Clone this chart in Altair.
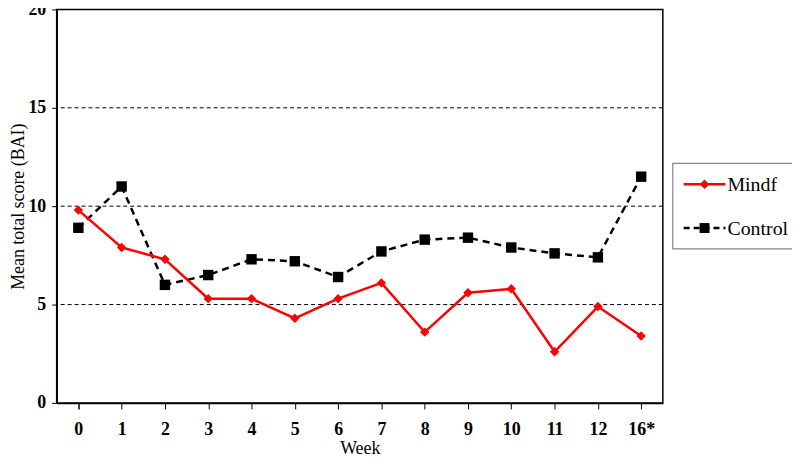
import altair as alt
import pandas as pd

weeks = ["0", "1", "2", "3", "4", "5", "6", "7", "8", "9", "10", "11", "12", "16*"]
mindf = [9.8, 7.9, 7.3, 5.3, 5.3, 4.3, 5.3, 6.1, 3.6, 5.6, 5.8, 2.6, 4.9, 3.4]
control = [8.9, 11.0, 6.0, 6.5, 7.3, 7.2, 6.4, 7.7, 8.3, 8.4, 7.9, 7.6, 7.4, 11.5]
y_ticks = [0, 5, 10, 15, 20]
grid_vals = [5, 10, 15]

FONT = "Times New Roman, Liberation Serif, serif"

df_m = pd.DataFrame({"week": weeks, "score": mindf})
df_c = pd.DataFrame({"week": weeks, "score": control})
df_grid = pd.DataFrame({"v": grid_vals})

W, H = 610, 396

x_enc = alt.X(
    "week:N",
    sort=weeks,
    scale=alt.Scale(paddingInner=1, paddingOuter=0.5),
    axis=alt.Axis(
        title="Week",
        labelAngle=0,
        labelFont=FONT,
        labelFontSize=18,
        labelFontWeight="bold",
        labelColor="black",
        labelPadding=12,
        tickBand="extent",
        tickColor="black",
        tickSize=6,
        domainColor="black",
        domainWidth=1.5,
        titleFont=FONT,
        titleFontSize=18,
        titleFontWeight="normal",
        titleColor="black",
        titlePadding=1,
        grid=False,
    ),
)

y_enc = alt.Y(
    "score:Q",
    scale=alt.Scale(domain=[0, 20], nice=False, zero=True),
    axis=alt.Axis(
        title="Mean total score (BAI)",
        values=y_ticks,
        labelFont=FONT,
        labelFontSize=18,
        labelFontWeight="bold",
        labelColor="black",
        labelPadding=6,
        tickColor="black",
        tickSize=5,
        domainColor="black",
        domainWidth=1.5,
        titleFont=FONT,
        titleFontSize=18,
        titleFontWeight="normal",
        titleColor="black",
        titlePadding=0,
        grid=False,
    ),
)

grid = alt.Chart(df_grid).mark_rule(color="black", strokeDash=[4, 3], strokeWidth=1).encode(
    y=alt.Y("v:Q", scale=alt.Scale(domain=[0, 20], nice=False))
)

line_m = alt.Chart(df_m).mark_line(color="#ff0000", strokeWidth=2.5).encode(x=x_enc, y=y_enc)
pts_m = alt.Chart(df_m).mark_point(
    shape="diamond", filled=True, color="#ff0000", size=90, opacity=1
).encode(x=x_enc, y=y_enc)

line_c = alt.Chart(df_c).mark_line(color="black", strokeWidth=2.5, strokeDash=[7, 5]).encode(x=x_enc, y=y_enc)
pts_c = alt.Chart(df_c).mark_point(
    shape="square", filled=True, color="black", size=110, opacity=1
).encode(x=x_enc, y=y_enc)

# Legend (drawn manually, placed to the right of the plot area)
one = alt.Chart(df_grid).transform_filter("datum.v == 5")
leg_box = one.mark_rect(
    fill="white", stroke="#888888", strokeWidth=1.2
).encode(x=alt.value(620), x2=alt.value(741), y=alt.value(155), y2=alt.value(241))

leg_line_m = one.mark_rule(color="#ff0000", strokeWidth=2.5).encode(
    x=alt.value(631), x2=alt.value(673), y=alt.value(176))
leg_pt_m = one.mark_point(
    shape="diamond", filled=True, color="#ff0000", size=90, opacity=1
).encode(x=alt.value(652), y=alt.value(176))
leg_txt_m = one.mark_text(
    text="Mindf", font=FONT, fontSize=20, align="left", baseline="middle", color="black"
).encode(x=alt.value(675), y=alt.value(177))

leg_line_c = one.mark_rule(color="black", strokeWidth=2.5, strokeDash=[6, 4]).encode(
    x=alt.value(631), x2=alt.value(673), y=alt.value(220))
leg_pt_c = one.mark_point(
    shape="square", filled=True, color="black", size=100, opacity=1
).encode(x=alt.value(652), y=alt.value(220))
leg_txt_c = one.mark_text(
    text="Control", font=FONT, fontSize=20, align="left", baseline="middle", color="black"
).encode(x=alt.value(675), y=alt.value(221))

chart = alt.layer(
    grid, line_c, pts_c, line_m, pts_m,
    leg_box, leg_line_m, leg_pt_m, leg_txt_m, leg_line_c, leg_pt_c, leg_txt_c,
).properties(
    width=W,
    height=H,
    autosize=alt.AutoSizeParams(type="none"),
    padding={"left": 49, "top": 0, "right": 130, "bottom": 56},
    background="white",
).configure_view(
    stroke="black", strokeWidth=1.5
)

chart.save("out.html", embed_options={"renderer": "svg", "actions": False})
